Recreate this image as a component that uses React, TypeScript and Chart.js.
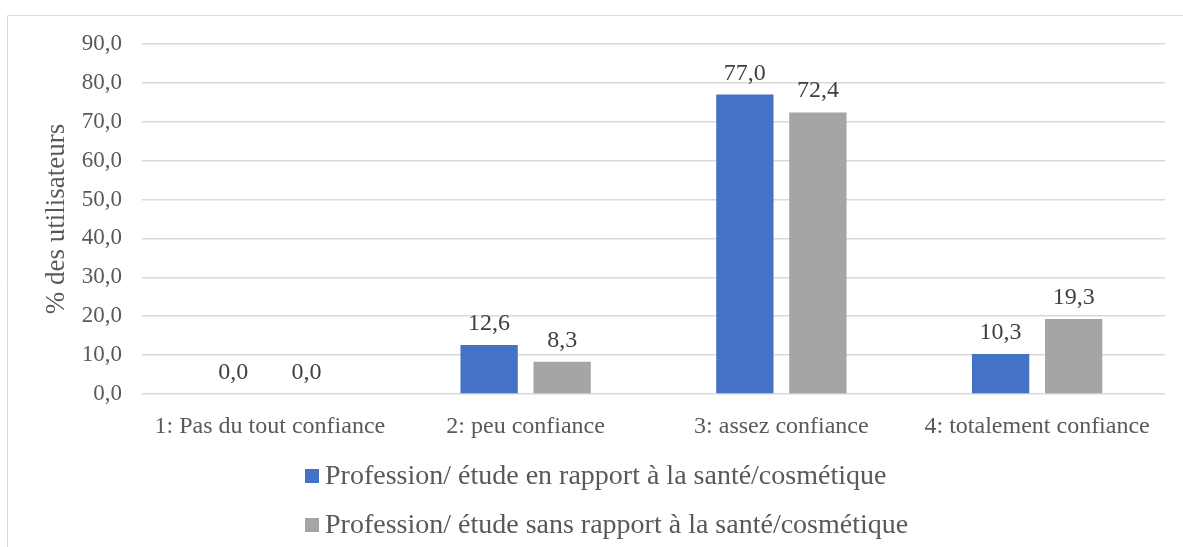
import { useEffect, useRef } from 'react';
import { Chart, registerables } from 'chart.js';

Chart.register(...registerables);

const categories = [
  '1: Pas du tout confiance',
  '2: peu confiance',
  '3: assez confiance',
  '4: totalement confiance',
];
const seriesNames = [
  'Profession/ étude en rapport à la santé/cosmétique',
  'Profession/ étude sans rapport à la santé/cosmétique',
];
const healthRelated = [0.0, 12.6, 77.0, 10.3];
const notHealthRelated = [0.0, 8.3, 72.4, 19.3];
const seriesColors = ['#4472C4', '#A5A5A5'];
const yAxisTitle = '% des utilisateurs';
const yMin = 0;
const yMax = 90;
const yStep = 10;

const FONT = '"Liberation Serif", "Times New Roman", serif';
const fmt = (v: number) => v.toFixed(1).replace('.', ',');

const framePlugin = {
  id: 'frame',
  beforeDraw(chart: any) {
    const ctx = chart.ctx;
    ctx.save();
    ctx.strokeStyle = '#D9D9D9';
    ctx.lineWidth = 1;
    ctx.beginPath();
    ctx.moveTo(7.5, chart.height + 5);
    ctx.lineTo(7.5, 15.5);
    ctx.lineTo(chart.width + 5, 15.5);
    ctx.stroke();
    ctx.restore();
  },
};

const dataLabelPlugin = {
  id: 'dataLabels',
  afterDatasetsDraw(chart: any) {
    const ctx = chart.ctx;
    ctx.save();
    ctx.font = `24px ${FONT}`;
    ctx.fillStyle = '#404040';
    ctx.textAlign = 'center';
    ctx.textBaseline = 'alphabetic';
    chart.data.datasets.forEach((ds: any, i: number) => {
      const meta = chart.getDatasetMeta(i);
      meta.data.forEach((bar: any, j: number) => {
        ctx.fillText(fmt(ds.data[j]), bar.x, bar.y - 15);
      });
    });
    ctx.restore();
  },
};

const customLegendPlugin = {
  id: 'customLegend',
  afterDraw(chart: any) {
    const ctx = chart.ctx;
    ctx.save();
    ctx.font = `28px ${FONT}`;
    ctx.textAlign = 'left';
    ctx.textBaseline = 'middle';
    const rows = [476, 525];
    chart.data.datasets.forEach((ds: any, i: number) => {
      const cy = rows[i];
      ctx.fillStyle = ds.backgroundColor;
      ctx.fillRect(305, cy - 7, 14, 14);
      ctx.fillStyle = '#595959';
      ctx.fillText(ds.label, 325, cy + 1);
    });
    ctx.restore();
  },
};

export default function App() {
  const ref = useRef<HTMLCanvasElement>(null);

  useEffect(() => {
    if (!ref.current) return;
    const chart = new Chart(ref.current, {
      type: 'bar',
      data: {
        labels: categories,
        datasets: [
          {
            label: seriesNames[0],
            data: healthRelated,
            backgroundColor: seriesColors[0],
            categoryPercentage: 0.571,
            barPercentage: 0.785,
          },
          {
            label: seriesNames[1],
            data: notHealthRelated,
            backgroundColor: seriesColors[1],
            categoryPercentage: 0.571,
            barPercentage: 0.785,
          },
        ],
      },
      options: {
        animation: false,
        responsive: false,
        events: [],
        layout: { padding: { left: 0, right: 18, top: 44, bottom: 107 } },
        plugins: {
          legend: { display: false },
          tooltip: { enabled: false },
        },
        scales: {
          x: {
            grid: { display: false },
            border: { display: false },
            ticks: {
              color: '#595959',
              font: { family: FONT, size: 24 },
              padding: 10,
              maxRotation: 0,
              autoSkip: false,
            },
            afterFit: (scale: any) => {
              scale.height = 46;
            },
          },
          y: {
            min: yMin,
            max: yMax,
            grid: { color: '#D9D9D9', lineWidth: 1.5, drawTicks: false },
            border: { display: false },
            ticks: {
              stepSize: yStep,
              color: '#595959',
              font: { family: FONT, size: 23 },
              padding: 20,
              callback: (v: any) => fmt(Number(v)),
            },
            title: {
              display: true,
              text: yAxisTitle,
              color: '#595959',
              font: { family: FONT, size: 27 },
              padding: { top: 41, bottom: 0 },
            },
            afterFit: (scale: any) => {
              scale.width = 142;
            },
          },
        },
      },
      plugins: [framePlugin, dataLabelPlugin, customLegendPlugin],
    });
    return () => chart.destroy();
  }, []);

  return (
    <div style={{ position: 'fixed', left: 0, top: 0, width: 1183, height: 547, background: '#fff' }}>
      <canvas ref={ref} width={1183} height={547} />
    </div>
  );
}
